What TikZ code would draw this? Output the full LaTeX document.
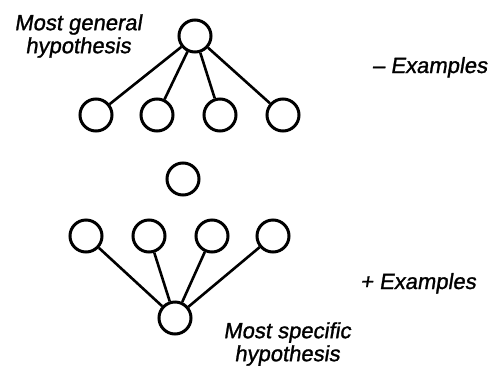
\documentclass[tikz,border=0pt]{standalone}
\usepackage{fontspec}
\setmainfont{Liberation Sans}
\newfontfamily\labelfont[FakeBold=1.2,FakeSlant=0.16]{Liberation Sans}
\begin{document}
\begin{tikzpicture}[x=1pt,y=-1pt,
  hyp/.style={circle,draw,line width=3pt,minimum size=32pt,inner sep=0pt},
  link/.style={line width=2.6pt},
  lbl/.style={font=\fontsize{22}{23}\labelfont,inner sep=0pt,align=center}]
\useasboundingbox (0,0) rectangle (494,367);

% general boundary and its specialisations
\node[hyp] (g)  at (195,36) {};
\node[hyp] (g1) at (96,115) {};
\node[hyp] (g2) at (157,115) {};
\node[hyp] (g3) at (220,115) {};
\node[hyp] (g4) at (283,115) {};

% intermediate hypothesis
\node[hyp] (mid) at (183,179) {};

% specific boundary and its generalisations
\node[hyp] (s1) at (86,236) {};
\node[hyp] (s2) at (149,236) {};
\node[hyp] (s3) at (212,236) {};
\node[hyp] (s4) at (273,236) {};
\node[hyp] (s)  at (175,318) {};

\foreach \n in {g1,g2,g3,g4} \draw[link] (g) -- (\n);
\foreach \n in {s1,s2,s3,s4} \draw[link] (s) -- (\n);

% labels
\node[lbl] (lg) at (78,36) {Most general\\hypothesis};
\node[lbl] (ls) at (287,344) {Most specific\\hypothesis};
\node[lbl,anchor=base west] (neg) at (372,73) {\textendash{} Examples};
\node[lbl,anchor=base west] (pos) at (360,289) {+ Examples};
\end{tikzpicture}
\end{document}
